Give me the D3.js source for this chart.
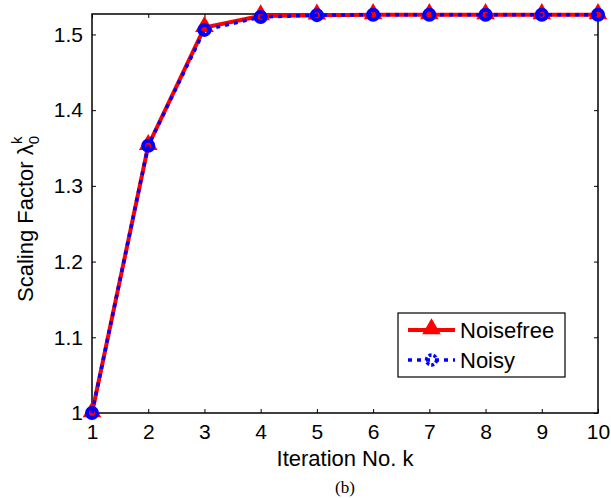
<!DOCTYPE html>
<html lang="en">

    <head>
    <meta charset="UTF-8">
    <title>Scaling factor</title>
    <script src="https://d3js.org/d3.v7.min.js"></script>
    <style>
        body {
            margin: 0;
            background: #fff;
            font-family: Arial, "Liberation Sans", sans-serif;
        }
    </style>
    </head>

    <body>
        <div id="chart"></div>
    </body>

    <script>
    var iterations = [1, 2, 3, 4, 5, 6, 7, 8, 9, 10]
    var noisefree = [1, 1.353, 1.509, 1.5245, 1.5255, 1.526, 1.526, 1.526, 1.526, 1.526]
    var noisy = [1, 1.353, 1.506, 1.523, 1.5255, 1.526, 1.526, 1.526, 1.526, 1.526]
    var yTicks = [1, 1.1, 1.2, 1.3, 1.4, 1.5]
    var seriesNames = ["Noisefree", "Noisy"]

    var width = 611
    var height = 498
    // plot box edges (note: "top" clashes with window.top, so prefix them)
    var pLeft = 92, pRight = 598, pTop = 14, pBottom = 413

    var svg = d3.select("#chart")
        .append("svg")
        .attr("width", width)
        .attr("height", height)

    var x = d3.scaleLinear().domain([1, 10]).range([pLeft, pRight])
    var y = d3.scaleLinear().domain([1, 1.527]).range([pBottom, pTop])

    // axes box
    svg.append("rect")
        .attr("x", pLeft)
        .attr("y", pTop)
        .attr("width", pRight - pLeft)
        .attr("height", pBottom - pTop)
        .attr("fill", "none")
        .attr("stroke", "#000")
        .attr("stroke-width", 1.5)

    // bottom axis, ticks inside
    svg.append("g")
        .attr("transform", "translate(0," + pBottom + ")")
        .call(d3.axisBottom(x).tickValues(iterations).tickSizeInner(-4).tickSizeOuter(0).tickPadding(11).tickFormat(d3.format("d")))
        .call(function(g) {
            g.select(".domain").remove()
            g.selectAll("text").attr("font-size", 21).attr("font-family", "Arial, 'Liberation Sans', sans-serif").attr("fill", "#000")
        })

    svg.append("g")
        .attr("transform", "translate(0," + pTop + ")")
        .call(d3.axisTop(x).tickValues(iterations).tickSizeInner(-4).tickSizeOuter(0).tickFormat(""))
        .call(function(g) { g.select(".domain").remove() })

    svg.append("g")
        .attr("transform", "translate(" + pLeft + ",0)")
        .call(d3.axisLeft(y).tickValues(yTicks).tickSizeInner(-4).tickSizeOuter(0).tickPadding(9).tickFormat(function(d) { return d == 1 ? "1" : d3.format(".1f")(d) }))
        .call(function(g) {
            g.select(".domain").remove()
            g.selectAll("text").attr("font-size", 21).attr("font-family", "Arial, 'Liberation Sans', sans-serif").attr("fill", "#000")
        })

    svg.append("g")
        .attr("transform", "translate(" + pRight + ",0)")
        .call(d3.axisRight(y).tickValues(yTicks).tickSizeInner(-4).tickSizeOuter(0).tickFormat(""))
        .call(function(g) { g.select(".domain").remove() })

    // axis labels
    svg.append("text")
        .attr("x", (pLeft + pRight) / 2)
        .attr("y", 466)
        .attr("text-anchor", "middle")
        .attr("font-size", 22)
        .text("Iteration No. k")

    var ylab = svg.append("text")
        .attr("transform", "translate(33,219) rotate(-90)")
        .attr("text-anchor", "middle")
        .attr("font-size", 22)
    ylab.append("tspan").text("Scaling Factor \u03bb")
    ylab.append("tspan").attr("font-size", 15).attr("dy", 6).text("0")
    ylab.append("tspan").attr("font-size", 15).attr("dx", -8).attr("dy", -17).text("k")

    svg.append("text")
        .attr("x", (pLeft + pRight) / 2)
        .attr("y", 493)
        .attr("text-anchor", "middle")
        .attr("font-family", "'Liberation Serif', 'Times New Roman', serif")
        .attr("font-size", 17)
        .text("(b)")

    // lines
    var line = d3.line()
        .x(function(d, i) { return x(iterations[i]) })
        .y(function(d) { return y(d) })

    var tri = d3.symbol().type(d3.symbolTriangle).size(150)

    svg.append("path")
        .datum(noisefree)
        .attr("d", line)
        .attr("fill", "none")
        .attr("stroke", "#ff0000")
        .attr("stroke-width", 4)

    svg.selectAll(".tri")
        .data(noisefree)
        .enter()
        .append("path")
        .attr("class", "tri")
        .attr("d", tri)
        .attr("transform", function(d, i) { return "translate(" + x(iterations[i]) + "," + (y(d) - 1) + ")" })
        .attr("fill", "#ff0000")

    svg.append("path")
        .datum(noisy)
        .attr("d", line)
        .attr("fill", "none")
        .attr("stroke", "#0000ff")
        .attr("stroke-width", 3.5)
        .attr("stroke-dasharray", "4,5")

    svg.selectAll(".circ")
        .data(noisy)
        .enter()
        .append("circle")
        .attr("class", "circ")
        .attr("cx", function(d, i) { return x(iterations[i]) })
        .attr("cy", function(d) { return y(d) })
        .attr("r", 5)
        .attr("fill", "none")
        .attr("stroke", "#0000ff")
        .attr("stroke-width", 4)

    // legend
    var legend = svg.append("g").attr("transform", "translate(398,313)")

    legend.append("rect")
        .attr("width", 167)
        .attr("height", 64)
        .attr("fill", "#fff")
        .attr("stroke", "#000")
        .attr("stroke-width", 1.2)

    legend.append("line")
        .attr("x1", 10).attr("x2", 57).attr("y1", 17).attr("y2", 17)
        .attr("stroke", "#ff0000").attr("stroke-width", 4)
    legend.append("path")
        .attr("d", tri)
        .attr("transform", "translate(33.5,16)")
        .attr("fill", "#ff0000")

    legend.append("line")
        .attr("x1", 10).attr("x2", 57).attr("y1", 47).attr("y2", 47)
        .attr("stroke", "#0000ff").attr("stroke-width", 3.5).attr("stroke-dasharray", "4,5")
    legend.append("circle")
        .attr("cx", 33.5).attr("cy", 47).attr("r", 5)
        .attr("fill", "none").attr("stroke", "#0000ff").attr("stroke-width", 3.5)
        .attr("stroke-dasharray", "3,2")

    legend.selectAll(".ltext")
        .data(seriesNames)
        .enter()
        .append("text")
        .attr("class", "ltext")
        .attr("x", 62)
        .attr("y", function(d, i) { return 25 + i * 30 })
        .attr("font-size", 22)
        .text(function(d) { return d })
    </script>

</html>
